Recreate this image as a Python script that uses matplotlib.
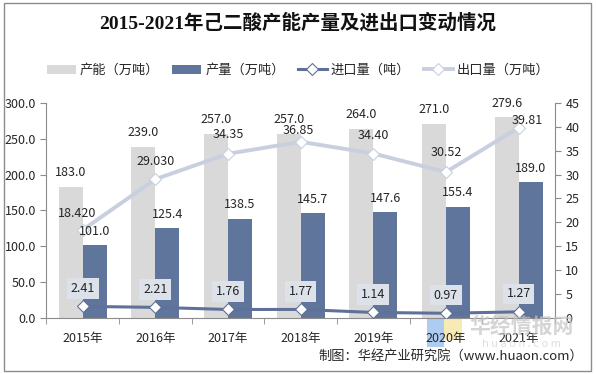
import matplotlib
matplotlib.use("Agg")
import matplotlib.pyplot as plt
from matplotlib.patches import Rectangle
import numpy as np

plt.rcParams['font.family'] = ['Noto Sans CJK SC', 'DejaVu Sans']

years = ['2015年', '2016年', '2017年', '2018年', '2019年', '2020年', '2021年']
capacity = [183.0, 239.0, 257.0, 257.0, 264.0, 271.0, 279.6]
production = [101.0, 125.4, 138.5, 145.7, 147.6, 155.4, 189.0]
imports = [2.41, 2.21, 1.76, 1.77, 1.14, 0.97, 1.27]
exports = [18.420, 29.030, 34.35, 36.85, 34.40, 30.52, 39.81]
export_labels = ['18.420', '29.030', '34.35', '36.85', '34.40', '30.52', '39.81']
left_ticks = [0, 50, 100, 150, 200, 250, 300]
right_ticks = [0, 5, 10, 15, 20, 25, 30, 35, 40, 45]

c_cap = '#D9D9D9'
c_prod = '#60759C'
c_imp = '#5F7198'
c_exp = '#C8CFDE'
txt = '#262626'

fig = plt.figure(figsize=(5.96, 3.74), dpi=100)
fig.patch.set_facecolor('white')
fig.add_artist(Rectangle((0.006, 0.008), 0.985, 0.984, transform=fig.transFigure,
                         fill=False, edgecolor='#8C8C8C', linewidth=1.0))

# faint watermark logo blocks (behind everything)
fig.add_artist(Rectangle((427 / 596, 1 - 347 / 374), 17 / 596, 30 / 374, transform=fig.transFigure,
                         facecolor='#9FC3F0', edgecolor='none', alpha=0.85, zorder=0))
fig.add_artist(Rectangle((444 / 596, 1 - 340 / 374), 18 / 596, 23 / 374, transform=fig.transFigure,
                         facecolor='#F6E7A8', edgecolor='none', alpha=0.85, zorder=0))

ax = fig.add_axes([0.078, 0.150, 0.853, 0.575])
ax.patch.set_alpha(0)
x = np.arange(len(years))
w = 0.33
ax.bar(x - w / 2, capacity, w, color=c_cap, label='产能（万吨）', zorder=2)
ax.bar(x + w / 2, production, w, color=c_prod, label='产量（万吨）', zorder=2)
ax.set_xlim(-0.5, len(years) - 0.5)
ax.set_ylim(0, 300)
ax.set_yticks(left_ticks)
ax.set_yticklabels([f'{v:.1f}' for v in left_ticks])
ax.set_xticks(x)
ax.set_xticklabels(years)
ax.set_xticks(np.arange(-0.5, len(years), 1), minor=True)
ax.tick_params(axis='x', which='major', length=0, pad=10, labelsize=9, colors=txt)
ax.tick_params(axis='x', which='minor', length=4, color='#8C8C8C')
ax.tick_params(axis='y', length=4, color='#8C8C8C', labelsize=9, colors=txt)
for s in ['top', 'right']:
    ax.spines[s].set_visible(False)
for s in ['left', 'bottom']:
    ax.spines[s].set_color('#8C8C8C')

ax2 = ax.twinx()
ax2.set_ylim(0, 45)
ax2.set_yticks(right_ticks)
ax2.tick_params(axis='y', length=4, color='#8C8C8C', labelsize=9, colors=txt)
for s in ['top', 'left', 'bottom']:
    ax2.spines[s].set_visible(False)
ax2.spines['right'].set_color('#8C8C8C')

ax2.plot(x, imports, color=c_imp, linewidth=2.2, marker='D', markersize=6,
         markerfacecolor='white', markeredgecolor=c_imp, markeredgewidth=0.8,
         label='进口量（吨）', zorder=4)
ax2.plot(x, exports, color=c_exp, linewidth=2.8, marker='D', markersize=6,
         markerfacecolor='white', markeredgecolor=c_exp, markeredgewidth=0.8,
         label='出口量（万吨）', zorder=4)

# bar value labels drawn on top axes so lines do not hide them
for i in range(len(years)):
    ax2.annotate(f'{capacity[i]:.1f}', (x[i] - w / 2, capacity[i]), xycoords=ax.transData,
                 xytext=(0, 10), textcoords='offset points', ha='center', va='center',
                 fontsize=9, color=txt, zorder=7)
    ax2.annotate(f'{production[i]:.1f}', (x[i] + w / 2, production[i]), xycoords=ax.transData,
                 xytext=(0, 10), textcoords='offset points', ha='center', va='center',
                 fontsize=9, color=txt, zorder=7)

# label offsets in points (layout only)
exp_off = [(-4, 12), (0, 13), (0, 14), (-2, 8), (0, 13), (0, 14), (6, 5)]
for i in range(len(years)):
    ax2.annotate(export_labels[i], (x[i], exports[i]), xytext=exp_off[i],
                 textcoords='offset points', ha='center', va='center',
                 fontsize=9, color=txt, zorder=6)
    ax2.annotate(f'{imports[i]:.2f}', (x[i], imports[i]), xytext=(0, 13),
                 textcoords='offset points', ha='center', va='center',
                 fontsize=9, color=txt, zorder=6,
                 bbox=dict(boxstyle='square,pad=0.3', facecolor='#DCE1EA', edgecolor='none'))

h1, l1 = ax.get_legend_handles_labels()
h2, l2 = ax2.get_legend_handles_labels()
fig.legend(h1 + h2, l1 + l2, loc='center', bbox_to_anchor=(0.5, 0.812), ncol=4,
           frameon=False, fontsize=9.5, handlelength=2.2, handletextpad=0.3,
           columnspacing=1.0, labelcolor=txt)

fig.text(0.5, 0.94, '2015-2021年己二酸产能产量及进出口变动情况', ha='center', va='center',
         fontsize=14, fontweight='bold', color='#111111',
         family=['Liberation Serif', 'Noto Sans CJK SC'])
fig.text(0.978, 0.048, '制图：华经产业研究院（www.huaon.com）', ha='right', va='center',
         fontsize=9.5, color=txt)
fig.text(522 / 596, 1 - 326 / 374, '华经情报网', ha='center', va='center', fontsize=15,
         fontweight='bold', color='#C4C4C4', alpha=0.7, zorder=1)
fig.text(522 / 596, 1 - 344 / 374, 'h u a o n . c o m', ha='center', va='center', fontsize=8,
         color='#D0D0D0', alpha=0.7, zorder=1)

fig.savefig('out.png', dpi=100, facecolor='white')
